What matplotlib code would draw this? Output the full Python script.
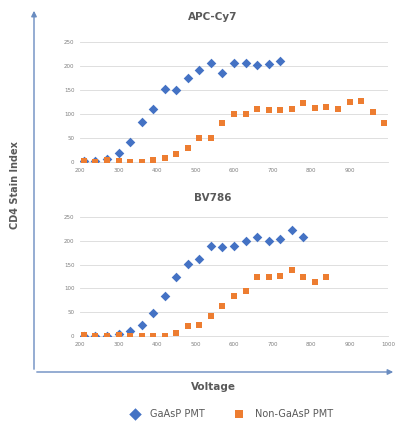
import matplotlib
matplotlib.use("Agg")
import matplotlib.pyplot as plt

# ---- data ----
apc_gaasp_v = [210, 240, 270, 300, 330, 360, 390, 420, 450, 480, 510, 540, 570, 600, 630, 660, 690, 720]
apc_gaasp_si = [3, 2, 6, 19, 42, 83, 110, 152, 151, 174, 191, 206, 185, 206, 206, 203, 205, 211]
apc_non_v = [210, 240, 270, 300, 330, 360, 390, 420, 450, 480, 510, 540, 570, 600, 630, 660, 690, 720,
             750, 780, 810, 840, 870, 900, 930, 960, 990]
apc_non_si = [2, 1, 4, 2, 0, 0, 4, 8, 16, 29, 50, 51, 82, 99, 101, 111, 109, 108,
              111, 122, 113, 114, 111, 124, 127, 105, 82]

bv_gaasp_v = [210, 240, 270, 300, 330, 360, 390, 420, 450, 480, 510, 540, 570, 600, 630, 660, 690, 720, 750, 780]
bv_gaasp_si = [0, 0, 0, 5, 10, 24, 48, 85, 125, 152, 161, 189, 188, 189, 199, 208, 199, 203, 222, 209]
bv_non_v = [210, 240, 270, 300, 330, 360, 390, 420, 450, 480, 510, 540, 570, 600, 630, 660, 690, 720,
            750, 780, 810, 840]
bv_non_si = [3, 1, 1, 3, 1, 1, 0, 0, 7, 22, 24, 41, 64, 83, 95, 123, 125, 127, 138, 124, 113, 125]

titles = ["APC-Cy7", "BV786"]
y_ticks = [0, 50, 100, 150, 200, 250]
top_x_ticks = [200, 300, 400, 500, 600, 700, 800, 900]
bot_x_ticks = [200, 300, 400, 500, 600, 700, 800, 900, 1000]
series_names = ["GaAsP PMT", "Non-GaAsP PMT"]

BLUE = "#4472C4"
ORANGE = "#ED7D31"
GRID = "#D9D9D9"
TXT = "#595959"

W, H = 396, 425
fig = plt.figure(figsize=(W / 100, H / 100), dpi=100)


def fx(px):
    return px / W


def fy(py):
    return 1 - py / H


def make_ax(top_px, bot_px, xticks, title, title_y_px):
    ax = fig.add_axes([fx(80), fy(bot_px), fx(388) - fx(80), fy(top_px) - fy(bot_px)])
    ax.set_xlim(200, 1000)
    ax.set_ylim(0, 250)
    ax.set_yticks(y_ticks)
    ax.set_xticks(xticks)
    ax.tick_params(length=0, labelsize=4, labelcolor="#7F7F7F", pad=4)
    ax.grid(axis="y", color=GRID, linewidth=0.6)
    ax.set_axisbelow(True)
    for s in ax.spines.values():
        s.set_visible(False)
    ax.spines["bottom"].set_visible(True)
    ax.spines["bottom"].set_color(GRID)
    ax.spines["bottom"].set_linewidth(0.6)
    fig.text(fx(213), fy(title_y_px), title, ha="center", va="center",
             fontsize=7.5, fontweight="bold", color=TXT)
    return ax


ax1 = make_ax(42, 162, top_x_ticks, titles[0], 17)
ax1.scatter(apc_gaasp_v, apc_gaasp_si, marker="D", s=24, color=BLUE, zorder=3, linewidths=0)
ax1.scatter(apc_non_v, apc_non_si, marker="s", s=22, color=ORANGE, zorder=3, linewidths=0)

ax2 = make_ax(217, 336, bot_x_ticks, titles[1], 198)
h1 = ax2.scatter(bv_gaasp_v, bv_gaasp_si, marker="D", s=24, color=BLUE, zorder=3, linewidths=0)
h2 = ax2.scatter(bv_non_v, bv_non_si, marker="s", s=22, color=ORANGE, zorder=3, linewidths=0)

# outer arrow axes
AX_COL = "#6A8CC0"
fig.add_artist(matplotlib.patches.FancyArrowPatch((fx(34), fy(372)), (fx(34), fy(8)),
               transform=fig.transFigure, arrowstyle="-|>", mutation_scale=8,
               color=AX_COL, linewidth=1.0))
fig.add_artist(matplotlib.patches.FancyArrowPatch((fx(34), fy(372)), (fx(396), fy(372)),
               transform=fig.transFigure, arrowstyle="-|>", mutation_scale=8,
               color=AX_COL, linewidth=1.0))

fig.text(fx(15), fy(185), "CD4 Stain Index", rotation=90, ha="center", va="center",
         fontsize=7, fontweight="bold", color=TXT)
fig.text(fx(213), fy(387), "Voltage", ha="center", va="center",
         fontsize=7.5, fontweight="bold", color=TXT)

fig.legend([h1, h2], series_names, loc="center", bbox_to_anchor=(fx(229), fy(414)),
           ncol=2, frameon=False, fontsize=7, labelcolor=TXT, handletextpad=0.6,
           columnspacing=2.5, markerscale=1.3)

fig.savefig("out.png", dpi=100, facecolor="white")
